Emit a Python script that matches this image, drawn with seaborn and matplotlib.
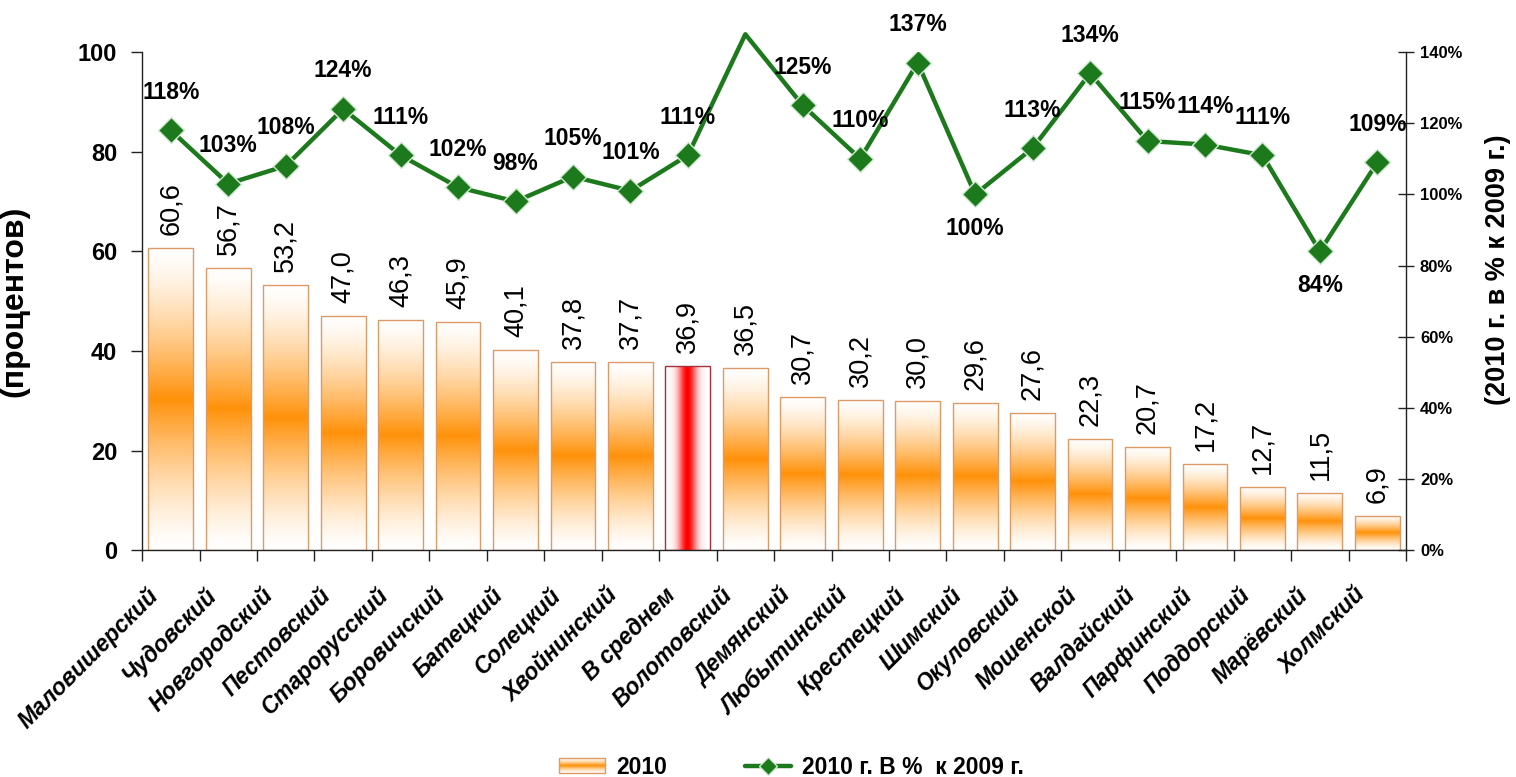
import numpy as np
import pandas as pd
import matplotlib.pyplot as plt
from matplotlib.lines import Line2D
from matplotlib.patches import Patch, Rectangle
from matplotlib.legend_handler import HandlerBase
from matplotlib.image import BboxImage
from matplotlib.transforms import Bbox, TransformedBbox
import seaborn as sns

# data
districts = ['Маловишерский', 'Чудовский', 'Новгородский', 'Пестовский', 'Старорусский',
             'Боровичский', 'Батецкий', 'Солецкий', 'Хвойнинский', 'В среднем',
             'Волотовский', 'Демянский', 'Любытинский', 'Крестецкий', 'Шимский',
             'Окуловский', 'Мошенской', 'Валдайский', 'Парфинский', 'Поддорский',
             'Марёвский', 'Холмский']
share_2010 = [60.6, 56.7, 53.2, 47.0, 46.3, 45.9, 40.1, 37.8, 37.7, 36.9, 36.5,
              30.7, 30.2, 30.0, 29.6, 27.6, 22.3, 20.7, 17.2, 12.7, 11.5, 6.9]
pct_vs_2009 = [118, 103, 108, 124, 111, 102, 98, 105, 101, 111, 145,
               125, 110, 137, 100, 113, 134, 115, 114, 111, 84, 109]

left_ticks = [0, 20, 40, 60, 80, 100]
right_ticks = [0, 20, 40, 60, 80, 100, 120, 140]

sns.set_theme(style='white')
plt.rcParams['font.family'] = ['Liberation Sans', 'DejaVu Sans']
plt.rcParams['text.color'] = 'black'
plt.rcParams['axes.labelcolor'] = 'black'
plt.rcParams['xtick.color'] = 'black'
plt.rcParams['ytick.color'] = 'black'

green = '#1c7a1c'
orange = np.array([1.0, 0.57, 0.04])
red = np.array([1.0, 0.0, 0.0])
white = np.array([1.0, 1.0, 1.0])
bar_edge = '#dc9a66'

t = np.linspace(0, 1, 256)
w_orange = np.clip(1 - np.abs(t - 0.5) / 0.5, 0, 1) ** 1.4
orange_grad = (white + (orange - white) * w_orange[:, None])[:, None, :]
w_red = np.exp(-((t - 0.5) / 0.2) ** 2)
red_grad = (white + (red - white) * w_red[:, None])[None, :, :]


class GradientHandler(HandlerBase):
    def create_artists(self, legend, orig_handle, xdescent, ydescent,
                       width, height, fontsize, trans):
        bb = TransformedBbox(Bbox.from_bounds(-xdescent, -ydescent, width, height), trans)
        img = BboxImage(bb, interpolation='bilinear')
        img.set_data(orange_grad)
        rect = Rectangle((-xdescent, -ydescent), width, height, facecolor='none',
                         edgecolor=bar_edge, lw=1, transform=trans)
        return [img, rect]


fig = plt.figure(figsize=(15.16, 7.77), dpi=100)
ax = fig.add_axes([0.0937, 0.292, 0.8338, 0.641])

df = pd.DataFrame({'district': districts, 'share': share_2010})
sns.barplot(data=df, x='district', y='share', ax=ax, width=0.78, color='white',
            saturation=1, edgecolor=bar_edge, linewidth=1.0, zorder=2)

# gradient fills clipped to each bar
avg_idx = districts.index('В среднем')
for i, p in enumerate(ax.patches):
    x0, w, h = p.get_x(), p.get_width(), p.get_height()
    p.set_facecolor('none')
    if i == avg_idx:
        img = red_grad
        p.set_edgecolor('#a8303c')
    else:
        img = orange_grad
    im = ax.imshow(img, extent=[x0, x0 + w, 0, h], aspect='auto', zorder=1,
                   interpolation='bilinear')
    im.set_clip_path(p)
    ax.annotate(f'{share_2010[i]:.1f}'.replace('.', ','), (x0 + w / 2, h),
                xytext=(0, 13), textcoords='offset pixels', rotation=90,
                ha='center', va='bottom', fontsize=19.5)

pos = np.arange(len(districts))
ax.set_xlim(-0.5, len(districts) - 0.5)
ax.set_ylim(0, 100)
ax.set_yticks(left_ticks)
ax.set_yticklabels([str(v) for v in left_ticks], fontsize=17, fontweight='bold')
# category labels sit a little left of the bar centre, as in the original
ax.set_xticks(pos - 0.42)
ax.set_xticklabels(districts, rotation=45, ha='right', rotation_mode='anchor',
                   fontsize=16.5, fontweight='bold', fontstyle='italic')
ax.set_xticks(np.arange(len(districts) + 1) - 0.5, minor=True)
ax.tick_params(axis='x', which='major', length=0, pad=24)
ax.tick_params(axis='x', which='minor', length=8, width=1, color='#222', bottom=True)
ax.tick_params(axis='y', length=8, width=1, color='#222', left=True, pad=10)
ax.set_xlabel('')
ax.set_ylabel('(процентов)', fontsize=23, fontweight='bold')
ax.yaxis.set_label_coords(-0.089, 0.5)
for s in ['top', 'right']:
    ax.spines[s].set_visible(False)
for s in ['left', 'bottom']:
    ax.spines[s].set_color('#222')
    ax.spines[s].set_linewidth(1)

# secondary axis: 2010 in % of 2009
ax2 = ax.twinx()
sns.lineplot(x=pos, y=pct_vs_2009, ax=ax2, color=green, linewidth=3.2,
             clip_on=False, zorder=3)
vis = [v <= right_ticks[-1] for v in pct_vs_2009]
sns.scatterplot(x=pos[vis], y=np.array(pct_vs_2009)[vis], ax=ax2, marker='D',
                s=175, color=green, edgecolor='#cfe8cf', linewidth=1, zorder=4)
below = {'Шимский', 'Марёвский'}
for i, v in enumerate(pct_vs_2009):
    if v > right_ticks[-1]:
        continue
    dy = -34 if districts[i] in below else 38
    ax2.annotate(f'{v}%', (i, v), xytext=(0, dy), textcoords='offset pixels',
                 ha='center', va='center', fontsize=16.5, fontweight='bold')
ax2.set_ylim(0, 140)
ax2.set_xlim(-0.5, len(districts) - 0.5)
ax2.set_yticks(right_ticks)
ax2.set_yticklabels([f'{v}%' for v in right_ticks], fontsize=12, fontweight='bold')
ax2.tick_params(axis='y', direction='inout', length=12, width=1, color='#222',
                right=True, pad=4)
ax2.set_ylabel('(2010 г. в % к 2009 г.)', fontsize=19.5, fontweight='bold',
               rotation=90, va='center')
ax2.yaxis.set_label_coords(1.073, 0.564)
ax2.spines['top'].set_visible(False)
ax2.spines['left'].set_visible(False)
ax2.spines['bottom'].set_visible(False)
ax2.spines['right'].set_color('#222')
ax2.spines['right'].set_linewidth(1)

handles = [Patch(label='2010'),
           Line2D([], [], color=green, lw=3.2, marker='D', markersize=9,
                  markeredgecolor='#cfe8cf', label='2010 г. В %  к 2009 г.')]
fig.legend(handles=handles, loc='center', bbox_to_anchor=(0.522, 1 - 767 / 777),
           ncol=2, frameon=False, columnspacing=3.4, handlelength=2.0,
           handleheight=0.6, handletextpad=0.5,
           handler_map={Patch: GradientHandler()},
           prop={'size': 16.5, 'weight': 'bold'})

fig.savefig('out.png', dpi=100)
